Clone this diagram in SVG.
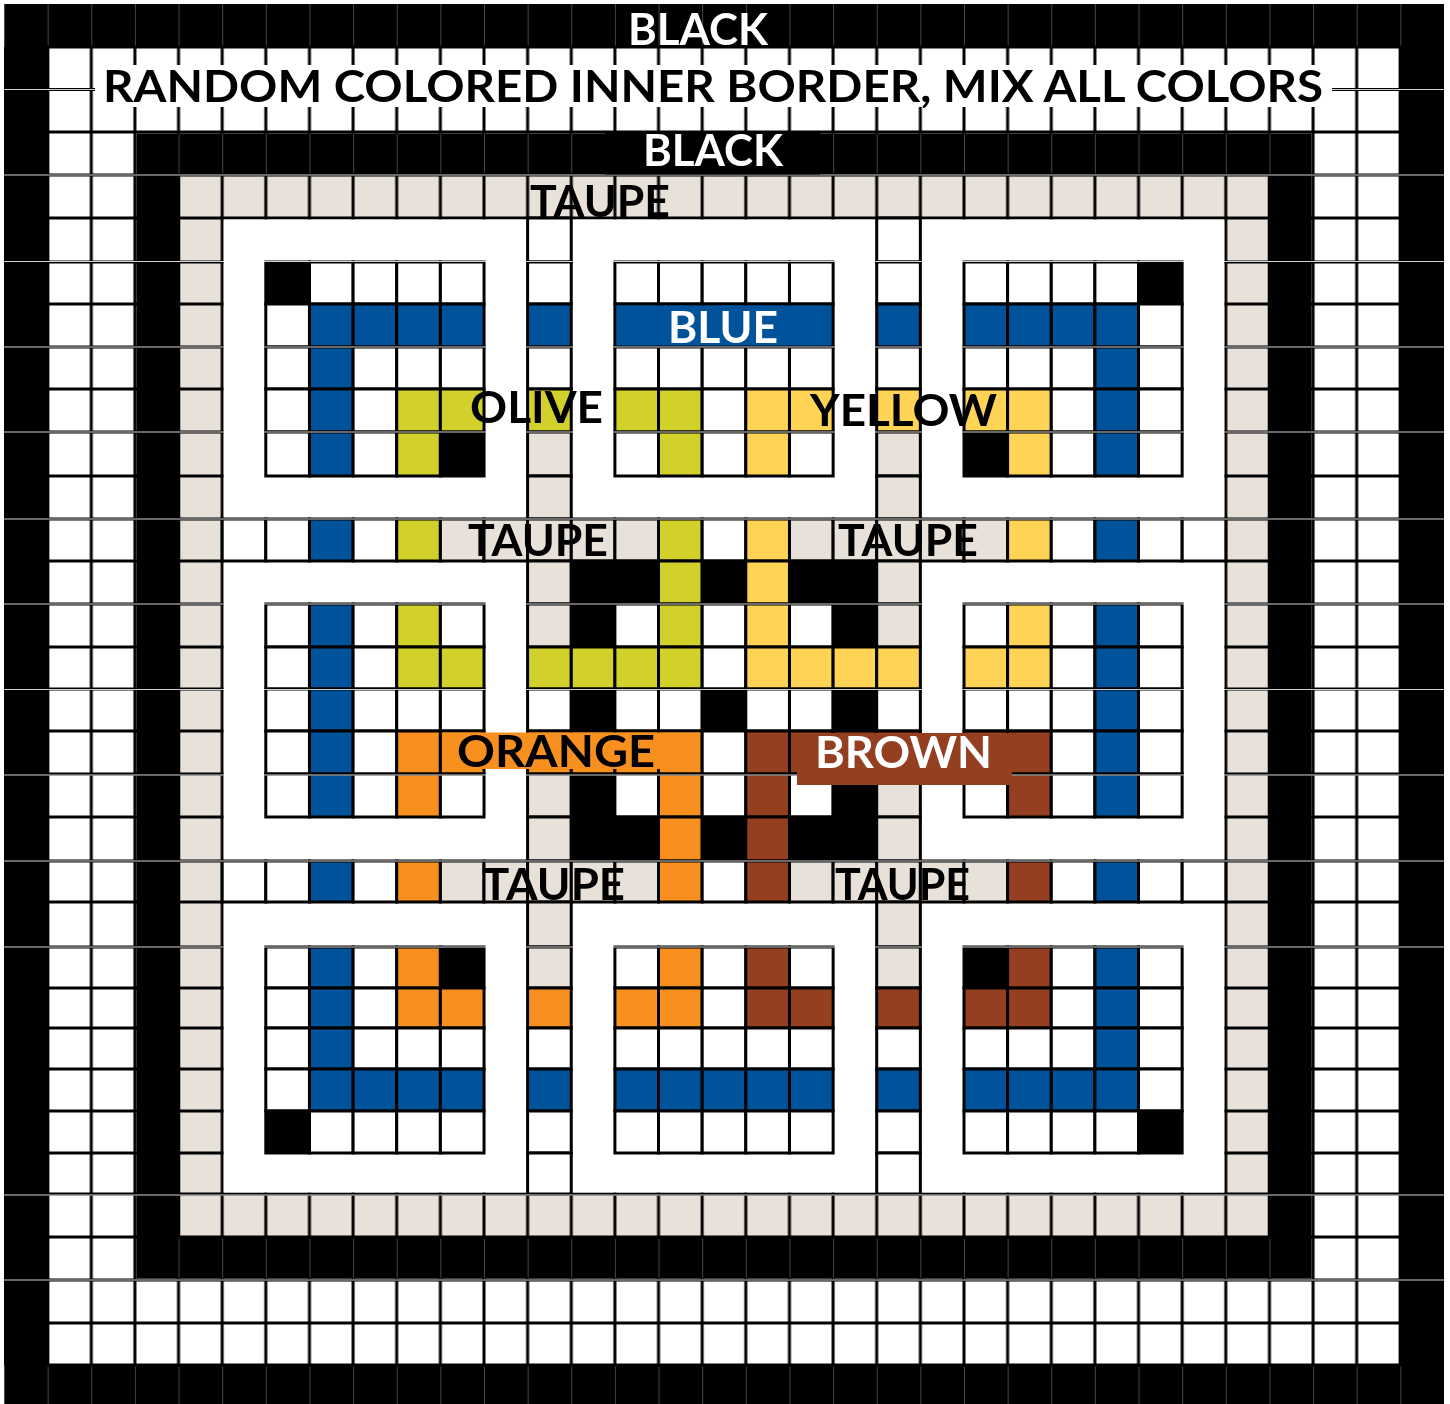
<svg xmlns="http://www.w3.org/2000/svg" width="1450" height="1404" viewBox="0 0 1450 1404">
<style>
.c rect{width:43.64px;fill:#fff;stroke:#000;stroke-width:3}
.h40 rect{height:40px}.h41 rect{height:41px}.h42 rect{height:42px}.h43 rect{height:43px}.h44 rect{height:44px}.h45 rect{height:45px}
.c .k{fill:#000}.c .t{fill:#e8e1da}.c .b{fill:#00529b}.c .o{fill:#d2d02a}.c .y{fill:#ffd456}.c .r{fill:#f7901e}.c .n{fill:#944020}
.ln{stroke:#000;stroke-width:3;fill:none}
.seam{stroke:#d0d0d0;stroke-width:1.2;fill:none;mix-blend-mode:lighten}
.lbl text{font-family:Lato,"Open Sans","DejaVu Sans",sans-serif;font-weight:700;font-size:44px}
</style>
<defs>
<pattern id="pw" patternUnits="userSpaceOnUse" x="4" y="0" width="43.636" height="1404"><rect width="43.636" height="1404" fill="#fff"/><rect width="1.5" height="1404"/><rect x="42.136" width="1.5" height="1404"/></pattern>
<pattern id="pt" patternUnits="userSpaceOnUse" x="4" y="0" width="43.636" height="1404"><rect width="43.636" height="1404" fill="#e8e1da"/><rect width="1.5" height="1404"/><rect x="42.136" width="1.5" height="1404"/></pattern>
<pattern id="pg" patternUnits="userSpaceOnUse" x="4" y="0" width="43.636" height="1404"><rect width="1" height="1404" fill="#454545"/></pattern>
</defs>
<rect width="1450" height="1404" fill="#fff"/>
<g id="outer-black-border">
<rect x="4" y="4" width="1440" height="1400" fill="#000"/>
<rect x="4" y="4" width="1440" height="43" fill="url(#pg)"/>
<rect x="4" y="1365" width="1440" height="39" fill="url(#pg)"/>
</g>
<g id="random-inner-border">
<rect x="47.6" y="47" width="1352.8" height="1318" fill="url(#pw)" stroke="#000" stroke-width="3"/>
<path class="ln" d="M47.6 89.5H1400.4M47.6 132H1400.4M47.6 175H1400.4M47.6 218H1400.4M47.6 262H1400.4M47.6 304H1400.4M47.6 347H1400.4M47.6 389H1400.4M47.6 432H1400.4M47.6 476H1400.4M47.6 519H1400.4M47.6 561H1400.4M47.6 604H1400.4M47.6 647H1400.4M47.6 689H1400.4M47.6 731H1400.4M47.6 774H1400.4M47.6 817H1400.4M47.6 861H1400.4M47.6 902H1400.4M47.6 947H1400.4M47.6 988H1400.4M47.6 1028H1400.4M47.6 1069H1400.4M47.6 1111H1400.4M47.6 1153H1400.4M47.6 1194H1400.4M47.6 1237H1400.4M47.6 1280H1400.4M47.6 1323H1400.4"/>
</g>
<g id="black-border">
<rect x="136.4" y="133.5" width="1175.2" height="1145" fill="#000"/>
<rect x="136.4" y="133.5" width="1175.2" height="40" fill="url(#pg)"/>
<rect x="136.4" y="1238.5" width="1175.2" height="40" fill="url(#pg)"/>
</g>
<g id="taupe-border">
<rect x="178.5" y="175" width="1091" height="1062" fill="url(#pt)" stroke="#000" stroke-width="3"/>
<path class="ln" d="M178.5 218H1269.5M178.5 262H1269.5M178.5 304H1269.5M178.5 347H1269.5M178.5 389H1269.5M178.5 432H1269.5M178.5 476H1269.5M178.5 519H1269.5M178.5 561H1269.5M178.5 604H1269.5M178.5 647H1269.5M178.5 689H1269.5M178.5 731H1269.5M178.5 774H1269.5M178.5 817H1269.5M178.5 861H1269.5M178.5 902H1269.5M178.5 947H1269.5M178.5 988H1269.5M178.5 1028H1269.5M178.5 1069H1269.5M178.5 1111H1269.5M178.5 1153H1269.5M178.5 1194H1269.5"/>
<rect x="223.7" y="219.5" width="1000.6" height="973" fill="#fff"/>
</g>
<g id="blocks">
<g class="c h44" transform="translate(0,218)"><rect x="527.6"/><rect x="876.7"/></g>
<g class="c h42" transform="translate(0,262)"><rect x="265.8" class="k"/><rect x="309.5"/><rect x="353.1"/><rect x="396.7"/><rect x="440.4"/><rect x="527.6"/><rect x="614.9"/><rect x="658.5"/><rect x="702.2"/><rect x="745.8"/><rect x="789.5"/><rect x="876.7"/><rect x="964"/><rect x="1007.6"/><rect x="1051.3"/><rect x="1094.9"/><rect x="1138.5" class="k"/></g>
<g class="c h43" transform="translate(0,304)"><rect x="265.8"/><rect x="309.5" class="b"/><rect x="353.1" class="b"/><rect x="396.7" class="b"/><rect x="440.4" class="b"/><rect x="527.6" class="b"/><rect x="614.9" class="b"/><rect x="658.5" class="b"/><rect x="702.2" class="b"/><rect x="745.8" class="b"/><rect x="789.5" class="b"/><rect x="876.7" class="b"/><rect x="964" class="b"/><rect x="1007.6" class="b"/><rect x="1051.3" class="b"/><rect x="1094.9" class="b"/><rect x="1138.5"/></g>
<g class="c h42" transform="translate(0,347)"><rect x="265.8"/><rect x="309.5" class="b"/><rect x="353.1"/><rect x="396.7"/><rect x="440.4"/><rect x="527.6"/><rect x="614.9"/><rect x="658.5"/><rect x="702.2"/><rect x="745.8"/><rect x="789.5"/><rect x="876.7"/><rect x="964"/><rect x="1007.6"/><rect x="1051.3"/><rect x="1094.9" class="b"/><rect x="1138.5"/></g>
<g class="c h43" transform="translate(0,389)"><rect x="265.8"/><rect x="309.5" class="b"/><rect x="353.1"/><rect x="396.7" class="o"/><rect x="440.4" class="o"/><rect x="527.6" class="o"/><rect x="614.9" class="o"/><rect x="658.5" class="o"/><rect x="702.2"/><rect x="745.8" class="y"/><rect x="789.5" class="y"/><rect x="876.7" class="y"/><rect x="964" class="y"/><rect x="1007.6" class="y"/><rect x="1051.3"/><rect x="1094.9" class="b"/><rect x="1138.5"/></g>
<g class="c h44" transform="translate(0,432)"><rect x="265.8"/><rect x="309.5" class="b"/><rect x="353.1"/><rect x="396.7" class="o"/><rect x="440.4" class="k"/><rect x="527.6" class="t"/><rect x="614.9"/><rect x="658.5" class="o"/><rect x="702.2"/><rect x="745.8" class="y"/><rect x="789.5"/><rect x="876.7" class="t"/><rect x="964" class="k"/><rect x="1007.6" class="y"/><rect x="1051.3"/><rect x="1094.9" class="b"/><rect x="1138.5"/></g>
<g class="c h43" transform="translate(0,476)"><rect x="527.6" class="t"/><rect x="876.7" class="t"/></g>
<g class="c h42" transform="translate(0,519)"><rect x="222.2"/><rect x="265.8"/><rect x="309.5" class="b"/><rect x="353.1"/><rect x="396.7" class="o"/><rect x="440.4" class="t"/><rect x="484" class="t"/><rect x="527.6" class="t"/><rect x="571.3" class="t"/><rect x="614.9" class="t"/><rect x="658.5" class="o"/><rect x="702.2"/><rect x="745.8" class="y"/><rect x="789.5" class="t"/><rect x="833.1" class="t"/><rect x="876.7" class="t"/><rect x="920.4" class="t"/><rect x="964" class="t"/><rect x="1007.6" class="y"/><rect x="1051.3"/><rect x="1094.9" class="b"/><rect x="1138.5"/><rect x="1182.2"/></g>
<g class="c h43" transform="translate(0,561)"><rect x="527.6" class="t"/><rect x="571.3" class="k"/><rect x="614.9" class="k"/><rect x="658.5" class="o"/><rect x="702.2" class="k"/><rect x="745.8" class="y"/><rect x="789.5" class="k"/><rect x="833.1" class="k"/><rect x="876.7" class="t"/></g>
<g class="c h43" transform="translate(0,604)"><rect x="265.8"/><rect x="309.5" class="b"/><rect x="353.1"/><rect x="396.7" class="o"/><rect x="440.4"/><rect x="527.6" class="t"/><rect x="571.3" class="k"/><rect x="614.9"/><rect x="658.5" class="o"/><rect x="702.2"/><rect x="745.8" class="y"/><rect x="789.5"/><rect x="833.1" class="k"/><rect x="876.7" class="t"/><rect x="964"/><rect x="1007.6" class="y"/><rect x="1051.3"/><rect x="1094.9" class="b"/><rect x="1138.5"/></g>
<g class="c h42" transform="translate(0,647)"><rect x="265.8"/><rect x="309.5" class="b"/><rect x="353.1"/><rect x="396.7" class="o"/><rect x="440.4" class="o"/><rect x="527.6" class="o"/><rect x="571.3" class="o"/><rect x="614.9" class="o"/><rect x="658.5" class="o"/><rect x="702.2"/><rect x="745.8" class="y"/><rect x="789.5" class="y"/><rect x="833.1" class="y"/><rect x="876.7" class="y"/><rect x="964" class="y"/><rect x="1007.6" class="y"/><rect x="1051.3"/><rect x="1094.9" class="b"/><rect x="1138.5"/></g>
<g class="c h42" transform="translate(0,689)"><rect x="265.8"/><rect x="309.5" class="b"/><rect x="353.1"/><rect x="396.7"/><rect x="440.4"/><rect x="527.6"/><rect x="571.3" class="k"/><rect x="614.9"/><rect x="658.5"/><rect x="702.2" class="k"/><rect x="745.8"/><rect x="789.5"/><rect x="833.1" class="k"/><rect x="876.7"/><rect x="964"/><rect x="1007.6"/><rect x="1051.3"/><rect x="1094.9" class="b"/><rect x="1138.5"/></g>
<g class="c h43" transform="translate(0,731)"><rect x="265.8"/><rect x="309.5" class="b"/><rect x="353.1"/><rect x="396.7" class="r"/><rect x="440.4" class="r"/><rect x="527.6" class="r"/><rect x="571.3" class="r"/><rect x="614.9" class="r"/><rect x="658.5" class="r"/><rect x="702.2"/><rect x="745.8" class="n"/><rect x="789.5" class="n"/><rect x="833.1" class="n"/><rect x="876.7" class="n"/><rect x="964" class="n"/><rect x="1007.6" class="n"/><rect x="1051.3"/><rect x="1094.9" class="b"/><rect x="1138.5"/></g>
<g class="c h43" transform="translate(0,774)"><rect x="265.8"/><rect x="309.5" class="b"/><rect x="353.1"/><rect x="396.7" class="r"/><rect x="440.4"/><rect x="527.6" class="t"/><rect x="571.3" class="k"/><rect x="614.9"/><rect x="658.5" class="r"/><rect x="702.2"/><rect x="745.8" class="n"/><rect x="789.5"/><rect x="833.1" class="k"/><rect x="876.7" class="t"/><rect x="964"/><rect x="1007.6" class="n"/><rect x="1051.3"/><rect x="1094.9" class="b"/><rect x="1138.5"/></g>
<g class="c h44" transform="translate(0,817)"><rect x="527.6" class="t"/><rect x="571.3" class="k"/><rect x="614.9" class="k"/><rect x="658.5" class="r"/><rect x="702.2" class="k"/><rect x="745.8" class="n"/><rect x="789.5" class="k"/><rect x="833.1" class="k"/><rect x="876.7" class="t"/></g>
<g class="c h41" transform="translate(0,861)"><rect x="222.2"/><rect x="265.8"/><rect x="309.5" class="b"/><rect x="353.1"/><rect x="396.7" class="r"/><rect x="440.4" class="t"/><rect x="484" class="t"/><rect x="527.6" class="t"/><rect x="571.3" class="t"/><rect x="614.9" class="t"/><rect x="658.5" class="r"/><rect x="702.2"/><rect x="745.8" class="n"/><rect x="789.5" class="t"/><rect x="833.1" class="t"/><rect x="876.7" class="t"/><rect x="920.4" class="t"/><rect x="964" class="t"/><rect x="1007.6" class="n"/><rect x="1051.3"/><rect x="1094.9" class="b"/><rect x="1138.5"/><rect x="1182.2"/></g>
<g class="c h45" transform="translate(0,902)"><rect x="527.6" class="t"/><rect x="876.7" class="t"/></g>
<g class="c h41" transform="translate(0,947)"><rect x="265.8"/><rect x="309.5" class="b"/><rect x="353.1"/><rect x="396.7" class="r"/><rect x="440.4" class="k"/><rect x="527.6" class="t"/><rect x="614.9"/><rect x="658.5" class="r"/><rect x="702.2"/><rect x="745.8" class="n"/><rect x="789.5"/><rect x="876.7" class="t"/><rect x="964" class="k"/><rect x="1007.6" class="n"/><rect x="1051.3"/><rect x="1094.9" class="b"/><rect x="1138.5"/></g>
<g class="c h40" transform="translate(0,988)"><rect x="265.8"/><rect x="309.5" class="b"/><rect x="353.1"/><rect x="396.7" class="r"/><rect x="440.4" class="r"/><rect x="527.6" class="r"/><rect x="614.9" class="r"/><rect x="658.5" class="r"/><rect x="702.2"/><rect x="745.8" class="n"/><rect x="789.5" class="n"/><rect x="876.7" class="n"/><rect x="964" class="n"/><rect x="1007.6" class="n"/><rect x="1051.3"/><rect x="1094.9" class="b"/><rect x="1138.5"/></g>
<g class="c h41" transform="translate(0,1028)"><rect x="265.8"/><rect x="309.5" class="b"/><rect x="353.1"/><rect x="396.7"/><rect x="440.4"/><rect x="527.6"/><rect x="614.9"/><rect x="658.5"/><rect x="702.2"/><rect x="745.8"/><rect x="789.5"/><rect x="876.7"/><rect x="964"/><rect x="1007.6"/><rect x="1051.3"/><rect x="1094.9" class="b"/><rect x="1138.5"/></g>
<g class="c h42" transform="translate(0,1069)"><rect x="265.8"/><rect x="309.5" class="b"/><rect x="353.1" class="b"/><rect x="396.7" class="b"/><rect x="440.4" class="b"/><rect x="527.6" class="b"/><rect x="614.9" class="b"/><rect x="658.5" class="b"/><rect x="702.2" class="b"/><rect x="745.8" class="b"/><rect x="789.5" class="b"/><rect x="876.7" class="b"/><rect x="964" class="b"/><rect x="1007.6" class="b"/><rect x="1051.3" class="b"/><rect x="1094.9" class="b"/><rect x="1138.5"/></g>
<g class="c h42" transform="translate(0,1111)"><rect x="265.8" class="k"/><rect x="309.5"/><rect x="353.1"/><rect x="396.7"/><rect x="440.4"/><rect x="527.6"/><rect x="614.9"/><rect x="658.5"/><rect x="702.2"/><rect x="745.8"/><rect x="789.5"/><rect x="876.7"/><rect x="964"/><rect x="1007.6"/><rect x="1051.3"/><rect x="1094.9"/><rect x="1138.5" class="k"/></g>
<g class="c h41" transform="translate(0,1153)"><rect x="527.6"/><rect x="876.7"/></g>
</g>
<path id="seams" class="seam" d="M4 89.5H1444M4 175H1444M4 261.5H1444M4 347H1444M4 432H1444M4 519H1444M4 604H1444M4 689.5H1444M4 775H1444M4 861H1444M4 947H1444M4 1195H1444M4 1280H1444"/>
<g id="labels" class="lbl">
<text x="628" y="45" textLength="140" lengthAdjust="spacingAndGlyphs" fill="#fff">BLACK</text>
<rect x="95" y="65" width="1237" height="42" fill="#fff"/>
<text x="103" y="102" textLength="1220" lengthAdjust="spacingAndGlyphs" fill="#000">RANDOM COLORED INNER BORDER, MIX ALL COLORS</text>
<rect x="605" y="133" width="215" height="41.5" fill="#000"/>
<text x="643" y="166" textLength="140" lengthAdjust="spacingAndGlyphs" fill="#fff">BLACK</text>
<text x="530" y="217" textLength="140" lengthAdjust="spacingAndGlyphs" fill="#000">TAUPE</text>
<rect x="616.5" y="305.5" width="214" height="40" fill="#00529b"/>
<text x="668" y="343" textLength="110" lengthAdjust="spacingAndGlyphs" fill="#fff">BLUE</text>
<text x="470" y="423" textLength="133" lengthAdjust="spacingAndGlyphs" fill="#000">OLIVE</text>
<text x="810" y="426" textLength="187" lengthAdjust="spacingAndGlyphs" fill="#000">YELLOW</text>
<text x="468" y="556" textLength="140" lengthAdjust="spacingAndGlyphs" fill="#000">TAUPE</text>
<text x="838" y="556" textLength="140" lengthAdjust="spacingAndGlyphs" fill="#000">TAUPE</text>
<rect x="443" y="732.5" width="257" height="36.5" fill="#f7901e"/>
<text x="457" y="767" textLength="198" lengthAdjust="spacingAndGlyphs" fill="#000">ORANGE</text>
<rect x="797" y="733" width="215" height="52" fill="#944020"/>
<text x="815" y="768" textLength="177" lengthAdjust="spacingAndGlyphs" fill="#fff">BROWN</text>
<text x="482" y="900" textLength="143" lengthAdjust="spacingAndGlyphs" fill="#000">TAUPE</text>
<text x="835" y="900" textLength="135" lengthAdjust="spacingAndGlyphs" fill="#000">TAUPE</text>
</g>
</svg>
